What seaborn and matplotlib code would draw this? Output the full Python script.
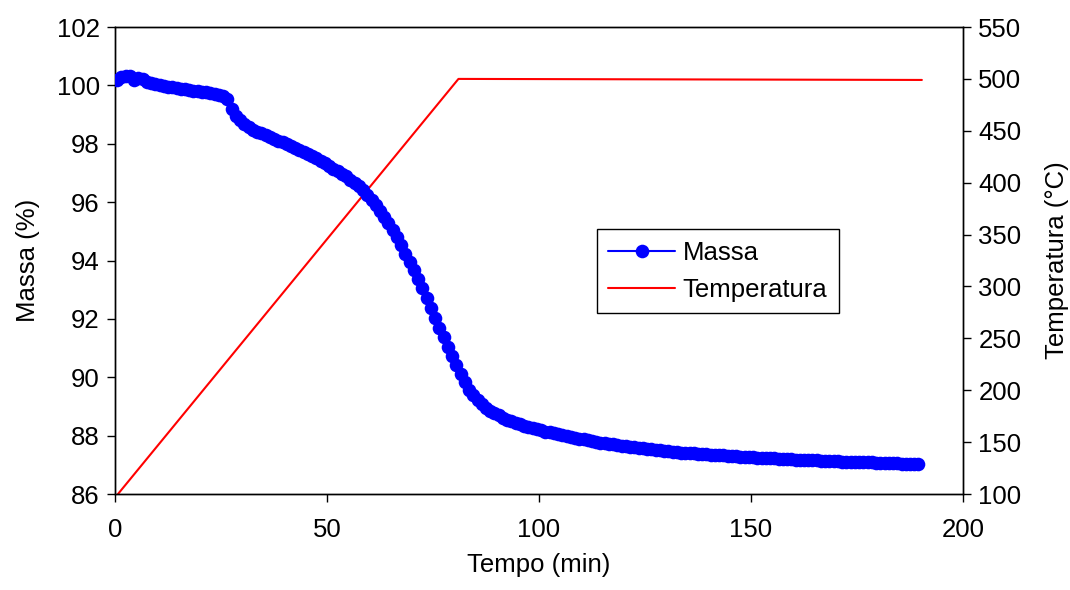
import numpy as np
import pandas as pd
import matplotlib
matplotlib.use("Agg")
import matplotlib.pyplot as plt
import seaborn as sns

# ---- data ----
tempo_massa = np.arange(0.5, 190.0, 1.0)  # one reading per minute
massa = [
    100.18, 100.29, 100.33, 100.32, 100.20, 100.24, 100.22, 100.12, 100.08, 100.05,
    100.02, 99.99, 99.96, 99.93, 99.90, 99.88, 99.86, 99.84, 99.82, 99.80,
    99.78, 99.76, 99.74, 99.71, 99.68, 99.63, 99.53, 99.20, 98.95, 98.80,
    98.67, 98.56, 98.48, 98.42, 98.36, 98.30, 98.24, 98.18, 98.11, 98.05,
    97.99, 97.93, 97.86, 97.79, 97.72, 97.65, 97.58, 97.50, 97.42, 97.33,
    97.24, 97.15, 97.06, 96.97, 96.88, 96.77, 96.66, 96.54, 96.41, 96.26,
    96.09, 95.90, 95.70, 95.49, 95.27, 95.04, 94.79, 94.52, 94.24, 93.96,
    93.67, 93.37, 93.05, 92.72, 92.38, 92.04, 91.70, 91.37, 91.04, 90.72,
    90.41, 90.11, 89.83, 89.58, 89.38, 89.22, 89.08, 88.96, 88.86, 88.77,
    88.69, 88.62, 88.55, 88.49, 88.44, 88.39, 88.34, 88.30, 88.26, 88.22,
    88.18, 88.14, 88.11, 88.08, 88.05, 88.02, 87.99, 87.96, 87.93, 87.90,
    87.87, 87.84, 87.81, 87.79, 87.76, 87.74, 87.72, 87.70, 87.68, 87.66,
    87.64, 87.62, 87.60, 87.58, 87.56, 87.55, 87.53, 87.51, 87.50, 87.48,
    87.47, 87.45, 87.44, 87.42, 87.41, 87.40, 87.39, 87.38, 87.37, 87.36,
    87.35, 87.34, 87.33, 87.32, 87.31, 87.30, 87.29, 87.28, 87.27, 87.26,
    87.26, 87.25, 87.24, 87.23, 87.22, 87.22, 87.21, 87.20, 87.19, 87.19,
    87.18, 87.17, 87.17, 87.16, 87.15, 87.15, 87.14, 87.14, 87.13, 87.12,
    87.12, 87.11, 87.11, 87.10, 87.10, 87.09, 87.09, 87.08, 87.08, 87.07,
    87.07, 87.06, 87.06, 87.05, 87.05, 87.04, 87.04, 87.03, 87.03, 87.02,
]
tempo_temp = [0.7, 81.0, 190.3]
temperatura = [100, 500, 499]

x_ticks = [0, 50, 100, 150, 200]
y_left_ticks = [86, 88, 90, 92, 94, 96, 98, 100, 102]
y_right_ticks = [100, 150, 200, 250, 300, 350, 400, 450, 500, 550]

df_m = pd.DataFrame({"Tempo": tempo_massa, "Massa": massa})
df_t = pd.DataFrame({"Tempo": tempo_temp, "Temperatura": temperatura})

sns.set_style("white")
plt.rcParams["font.family"] = ["Liberation Sans", "DejaVu Sans"]
plt.rcParams["text.color"] = "black"
plt.rcParams["axes.labelcolor"] = "black"
plt.rcParams["xtick.color"] = "black"
plt.rcParams["ytick.color"] = "black"
FS = 18.5

fig, ax = plt.subplots(figsize=(10.7, 5.9), dpi=100)
fig.subplots_adjust(left=0.1075, right=0.9, top=0.9542, bottom=0.1627)
ax2 = ax.twinx()

sns.lineplot(data=df_m, x="Tempo", y="Massa", ax=ax, color="#0000FF",
             marker="o", markersize=9.8, markeredgewidth=0, linewidth=1.5,
             label="Massa", legend=False, zorder=3)
sns.lineplot(data=df_t, x="Tempo", y="Temperatura", ax=ax2, color="#FF0000",
             linewidth=1.5, label="Temperatura", legend=False, zorder=2)

ax.set_zorder(ax2.get_zorder() + 1)
ax.patch.set_visible(False)

ax.set_xlim(0, 200)
ax.set_ylim(86, 102)
ax2.set_ylim(100, 550)
ax.set_xticks(x_ticks)
ax.set_yticks(y_left_ticks)
ax2.set_yticks(y_right_ticks)

for a in (ax, ax2):
    a.tick_params(labelsize=FS, direction="out", length=6, width=1,
                  color="black", labelcolor="black", pad=5)
    for s in a.spines.values():
        s.set_color("black")
        s.set_linewidth(1)
ax.tick_params(axis="x", pad=11)
ax.tick_params(axis="both", left=True, bottom=True)
ax2.tick_params(axis="y", right=True)

ax.set_xlabel("Tempo (min)", fontsize=FS, labelpad=8)
ax.set_ylabel("Massa (%)", fontsize=FS, labelpad=12)
ax2.set_ylabel("Temperatura (°C)", fontsize=FS, labelpad=17)

h1, l1 = ax.get_legend_handles_labels()
h2, l2 = ax2.get_legend_handles_labels()
leg = ax.legend(h1 + h2, l1 + l2, loc="upper left",
                bbox_to_anchor=(0.568, 0.567), borderaxespad=0,
                fontsize=FS, frameon=True,
                fancybox=False, edgecolor="black", framealpha=1,
                handlelength=2.6, handletextpad=0.3, borderpad=0.45,
                labelspacing=0.5)
leg.get_frame().set_linewidth(1)

fig.savefig("out.png", dpi=100, facecolor="white")
